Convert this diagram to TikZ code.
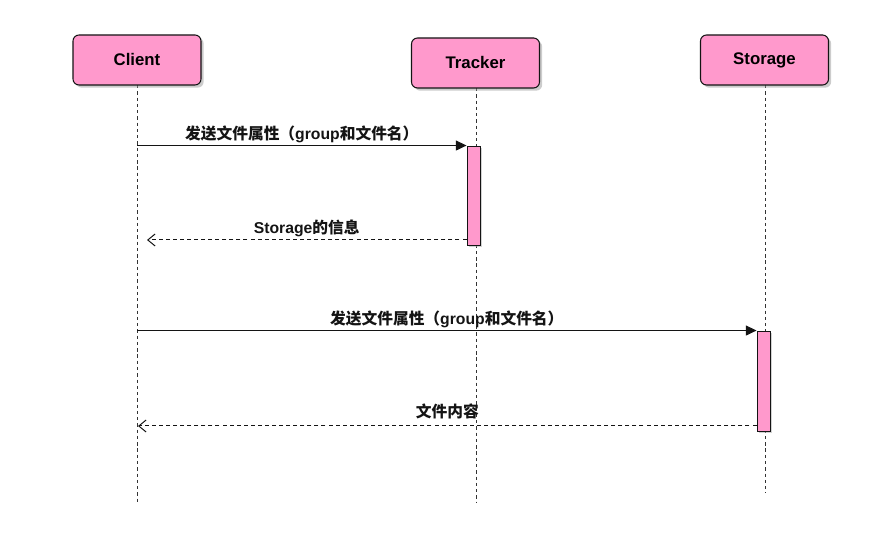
\documentclass[tikz,border=0pt]{standalone}
\usepackage{fontspec}
\setmainfont{Liberation Sans}
\newfontfamily\cjk{Noto Sans CJK SC}
\usepackage{xcolor}
\usepackage{tikz}
\usetikzlibrary{arrows.meta, positioning, calc, shadows}
\definecolor{partpink}{RGB}{255, 153, 204}
\definecolor{lineblack}{RGB}{20, 20, 20}

\begin{document}
\begin{tikzpicture}[x=0.75pt, y=-0.75pt, >=Stealth,
    party/.style={draw=lineblack, line width=0.8pt, fill=partpink, rounded corners=4.5pt,
        minimum width=96pt, minimum height=37.5pt, font=\bfseries\fontsize{12.6}{14}\selectfont,
        drop shadow={shadow xshift=2pt, shadow yshift=-2pt, fill=black!40}},
    act/.style={draw=lineblack, line width=0.7pt, fill=partpink, minimum width=9.75pt, inner sep=0pt,
        drop shadow={shadow xshift=1.8pt, shadow yshift=-1.8pt, fill=black!35}},
    life/.style={black!80, line width=0.7pt, dash pattern=on 2.5pt off 2.2pt},
    call/.style={lineblack, line width=0.75pt, -{Triangle[length=8pt, width=7.5pt]}},
    reply/.style={lineblack, line width=0.75pt, dash pattern=on 3pt off 2.3pt,
        -{Straight Barb[length=5.5pt, width=9pt]}},
    msglabel/.style={font=\bfseries\fontsize{11.8}{14}\selectfont, inner sep=2pt}]
    \useasboundingbox (0,0) rectangle (885,555);

    % Lifelines
    \coordinate (clientend) at (137,503);
    \coordinate (trackerend) at (476,503);
    \coordinate (storageend) at (765,493);
    \draw[life] (137,85) -- (clientend);
    \draw[life] (476,88) -- (trackerend);
    \draw[life] (765,85) -- (storageend);

    % Participants
    \node[party] (client) at (137,60) {Client};
    \node[party] (tracker) at (475.5,63) {Tracker};
    \node[party] (storage) at (764.5,60) {Storage};

    % Activations
    \node[act, minimum height=74.25pt] (tact) at (473.5,195.5) {};
    \node[act, minimum height=75pt] (sact) at (763.5,381) {};

    % Client -> Tracker
    \draw[call] (client |- tact.north) -- (tact.north west)
        node[msglabel, midway, above] {{\cjk 发送文件属性（}group{\cjk 和文件名）}};
    \coordinate (back1) at (147,240);
    \draw[reply] (tact.west |- back1) -- (back1)
        node[msglabel, midway, above] {Storage{\cjk 的信息}};

    % Client -> Storage
    \draw[call] (client |- sact.north) -- (sact.north west)
        node[msglabel, midway, above] {{\cjk 发送文件属性（}group{\cjk 和文件名）}};
    \coordinate (back2) at (138,426);
    \draw[reply] (sact.west |- back2) -- (back2)
        node[msglabel, midway, above=3pt] {{\cjk 文件内容}};
\end{tikzpicture}
\end{document}
